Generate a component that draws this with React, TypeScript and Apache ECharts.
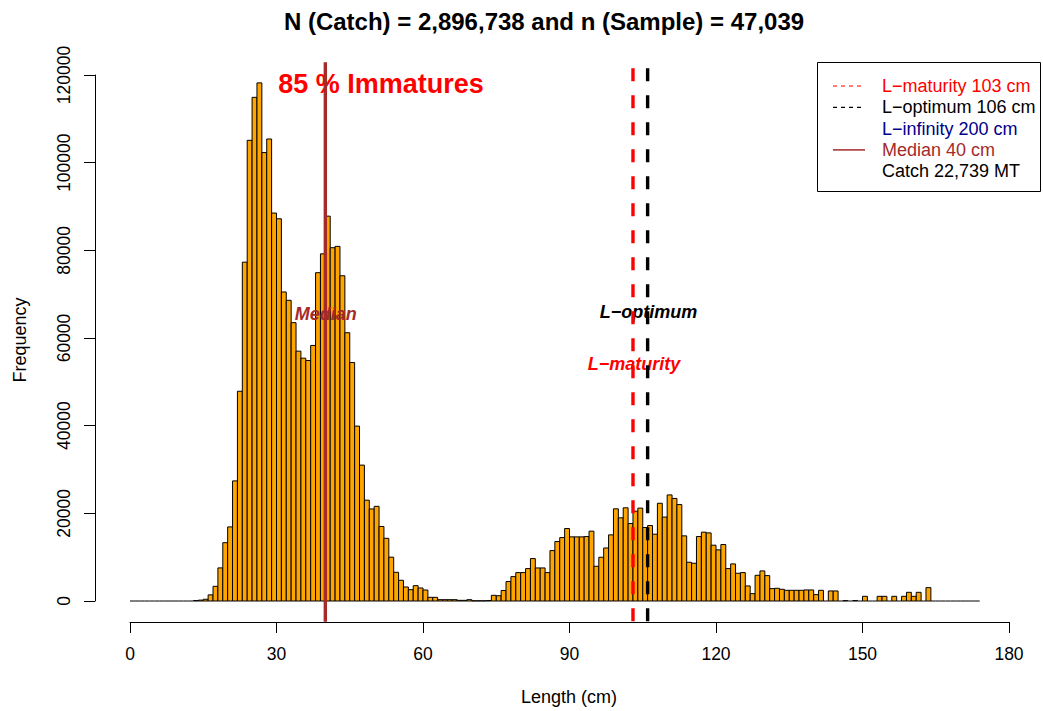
import React, { useEffect, useRef } from "react";
import * as echarts from "echarts";

// ---------- data ----------
// histogram of length frequencies, 1 cm bins starting at 0 cm
const BIN_START = 0;
const BIN_WIDTH = 1;
const COUNTS: number[] = [
  // 0-9
  0, 0, 0, 0, 0, 0, 0, 0, 0, 0,
  // 10-19
  0, 0, 0, 100, 200, 400, 1400, 3350, 7550, 13300,
  // 20-29
  16900, 27400, 47850, 77300, 105100, 114900, 118200, 102300, 105400, 88500,
  // 30-39
  87200, 70500, 68600, 63500, 57000, 55400, 54860, 58300, 74900, 79200,
  // 40-49
  87800, 80600, 80900, 74200, 61200, 54400, 39900, 31000, 23000, 21000,
  // 50-59
  21600, 17000, 14300, 10000, 6550, 4730, 3200, 2590, 3500, 2970,
  // 60-69
  2510, 840, 840, 300, 300, 300, 300, 150, 150, 300,
  // 70-79
  50, 50, 50, 100, 1300, 1200, 2400, 4450, 5560, 6480,
  // 80-89
  6480, 7390, 9680, 7540, 7540, 6480, 11500, 13560, 14470, 16530,
  // 90-99
  14630, 14630, 14630, 14700, 15930, 7920, 9980, 12100, 15090, 21030,
  // 100-109
  18970, 21260, 17680, 20500, 21190, 16760, 17220, 15240, 22300, 19150,
  // 110-119
  24200, 23400, 22000, 14860, 8840, 8610, 14710, 15700, 15540, 12730,
  // 120-129
  11660, 12880, 7390, 8460, 6330, 6480, 3430, 1680, 5870, 6860,
  // 130-139
  5790, 2820, 2900, 2670, 2440, 2440, 2440, 2440, 2520, 2520,
  // 140-149
  1450, 2440, 0, 2290, 2290, 0, 80, 0, 100, 0,
  // 150-159
  1070, 0, 0, 1070, 1070, 0, 1070, 0, 1070, 1980,
  // 160-169
  1070, 1980, 0, 3050, 0, 0, 0, 0, 0, 0,
  // 170-173
  0, 0, 0, 0,
];

const X_MIN = 0;
const X_MAX = 180;
const X_INTERVAL = 30;
const Y_MIN = 0;
const Y_MAX = 120000;
const Y_INTERVAL = 20000;

const L_MATURITY = 103;
const L_OPTIMUM = 106;
const L_INFINITY = 200;
const MEDIAN = 40;
const CATCH_MT = "22,739";

const TITLE = "N (Catch) = 2,896,738 and n (Sample) = 47,039";
const X_NAME = "Length (cm)";
const Y_NAME = "Frequency";

const ANNOTATIONS = [
  { x: 51.4, y: 117900, text: "85 % Immatures", color: "#FF0000", size: 27, italic: false },
  { x: 40.1, y: 65400, text: "Median", color: "#A52A2A", size: 18, italic: true },
  { x: 106.2, y: 65900, text: "L\u2212optimum", color: "#000000", size: 18, italic: true },
  { x: 103.2, y: 54000, text: "L\u2212maturity", color: "#FF0000", size: 18, italic: true },
];

const LEGEND_ITEMS = [
  { label: `L\u2212maturity ${L_MATURITY} cm`, color: "#FF0000", line: "dashed" },
  { label: `L\u2212optimum ${L_OPTIMUM} cm`, color: "#000000", line: "dashed" },
  { label: `L\u2212infinity ${L_INFINITY} cm`, color: "#00008B", line: "none" },
  { label: `Median ${MEDIAN} cm`, color: "#A52A2A", line: "solid" },
  { label: `Catch ${CATCH_MT} MT`, color: "#000000", line: "none" },
];

const FONT = '"Liberation Sans", Arial, Helvetica, sans-serif';

export default function App() {
  const ref = useRef<HTMLDivElement>(null);

  useEffect(() => {
    if (!ref.current) return;
    const chart = echarts.init(ref.current, undefined, { renderer: "svg" });

    const maxCount = Math.max(...COUNTS);
    // R extends the plot region 4% beyond the data range
    const yTop = maxCount * 1.04;
    const yBot = -maxCount * 0.04;

    const histData = COUNTS.map((c, i) => [
      BIN_START + i * BIN_WIDTH,
      BIN_START + (i + 1) * BIN_WIDTH,
      c,
    ]);

    const vline = (value: number, color: string, dashed: boolean) => ({
      type: "custom",
      clip: false,
      silent: true,
      z: 5,
      data: [[value, yTop]],
      encode: { x: 0, y: 1 },
      renderItem: (_p: any, api: any) => {
        const v = api.value(0);
        const p1 = api.coord([v, yTop]);
        const p2 = api.coord([v, yBot]);
        return {
          type: "line",
          shape: { x1: p1[0], y1: p1[1], x2: p2[0], y2: p2[1] },
          style: {
            stroke: color,
            lineWidth: 3.4,
            lineDash: dashed ? [13, 14] : null,
            lineDashOffset: dashed ? 20.7 : 0,
          },
        };
      },
    });

    const legendX = 817.5;
    const legendY = 62.5;
    const rowY0 = 86;
    const rowStep = 21.3;
    const legendGraphics: any[] = [
      {
        type: "rect",
        shape: { x: legendX, y: legendY, width: 223, height: 129 },
        style: { fill: "#fff", stroke: "#000", lineWidth: 1 },
      },
    ];
    LEGEND_ITEMS.forEach((it, i) => {
      const y = rowY0 + i * rowStep;
      if (it.line !== "none") {
        legendGraphics.push({
          type: "line",
          shape: { x1: 833, y1: y, x2: 865, y2: y },
          style: {
            stroke: it.color,
            lineWidth: it.line === "solid" ? 1.5 : 1.2,
            lineDash: it.line === "dashed" ? [4, 4] : null,
          },
        });
      }
      legendGraphics.push({
        type: "text",
        x: 882,
        y: y,
        style: {
          text: it.label,
          fill: it.color,
          font: `18px ${FONT}`,
          textAlign: "left",
          textVerticalAlign: "middle",
          verticalAlign: "middle",
        },
      });
    });

    const option: any = {
      animation: false,
      backgroundColor: "#ffffff",
      title: {
        text: TITLE,
        left: 539,
        top: 4,
        textAlign: "center",
        textStyle: {
          fontFamily: FONT,
          fontWeight: "bold",
          fontSize: 24,
          color: "#000",
        },
      },
      grid: {
        left: 130,
        right: 34,
        top: 75,
        bottom: 110,
        containLabel: false,
        outerBoundsMode: "none",
      },
      xAxis: {
        type: "value",
        min: X_MIN,
        max: X_MAX,
        interval: X_INTERVAL,
        offset: 21,
        axisLine: { show: true, onZero: false, lineStyle: { color: "#000", width: 1 } },
        axisTick: { show: true, length: 11, lineStyle: { color: "#000", width: 1 } },
        axisLabel: { margin: 23, fontSize: 17.5, color: "#000", fontFamily: FONT },
        splitLine: { show: false },
      },
      yAxis: {
        type: "value",
        min: Y_MIN,
        max: Y_MAX,
        interval: Y_INTERVAL,
        offset: 35,
        axisLine: { show: true, onZero: false, lineStyle: { color: "#000", width: 1 } },
        axisTick: { show: true, length: 11, lineStyle: { color: "#000", width: 1 } },
        axisLabel: {
          rotate: 90,
          margin: 22,
          fontSize: 17.5,
          color: "#000",
          fontFamily: FONT,
          formatter: (v: number) => String(v),
        },
        splitLine: { show: false },
      },
      series: [
        {
          type: "custom",
          clip: false,
          silent: true,
          z: 2,
          data: histData,
          encode: { x: [0, 1], y: 2 },
          renderItem: (_p: any, api: any) => {
            const x0 = api.value(0);
            const x1 = api.value(1);
            const v = api.value(2);
            const pTop = api.coord([x0, v]);
            const pBot = api.coord([x1, 0]);
            if (!v) {
              return {
                type: "line",
                shape: { x1: pTop[0], y1: pBot[1], x2: pBot[0], y2: pBot[1] },
                style: { stroke: "#000", lineWidth: 1 },
              };
            }
            return {
              type: "rect",
              shape: {
                x: pTop[0],
                y: pTop[1],
                width: pBot[0] - pTop[0],
                height: pBot[1] - pTop[1],
              },
              style: { fill: "#FFA500", stroke: "#000", lineWidth: 1 },
            };
          },
        },
        {
          type: "custom",
          clip: false,
          silent: true,
          z: 3,
          data: ANNOTATIONS.map((a) => [a.x, a.y]),
          encode: { x: 0, y: 1 },
          renderItem: (params: any, api: any) => {
            const a = ANNOTATIONS[params.dataIndex];
            const p = api.coord([api.value(0), api.value(1)]);
            return {
              type: "text",
              x: p[0],
              y: p[1],
              style: {
                text: a.text,
                fill: a.color,
                font: `${a.italic ? "italic " : ""}bold ${a.size}px ${FONT}`,
                textAlign: "center",
                textVerticalAlign: "middle",
                verticalAlign: "middle",
              },
            };
          },
        },
        vline(MEDIAN, "#A52A2A", false),
        vline(L_MATURITY, "#FF0000", true),
        vline(L_OPTIMUM, "#000000", true),
      ],
      graphic: [
        {
          type: "text",
          x: 569,
          y: 697,
          style: {
            text: X_NAME,
            fill: "#000",
            font: `18px ${FONT}`,
            textAlign: "center",
            textVerticalAlign: "middle",
            verticalAlign: "middle",
          },
        },
        {
          type: "text",
          x: 20,
          y: 340,
          rotation: Math.PI / 2,
          style: {
            text: Y_NAME,
            fill: "#000",
            font: `18px ${FONT}`,
            textAlign: "center",
            textVerticalAlign: "middle",
            verticalAlign: "middle",
          },
        },
        ...legendGraphics,
      ],
    };

    chart.setOption(option);
    return () => chart.dispose();
  }, []);

  return (
    <div
      ref={ref}
      style={{ position: "fixed", left: 0, top: 0, width: 1043, height: 711, background: "#fff" }}
    />
  );
}
